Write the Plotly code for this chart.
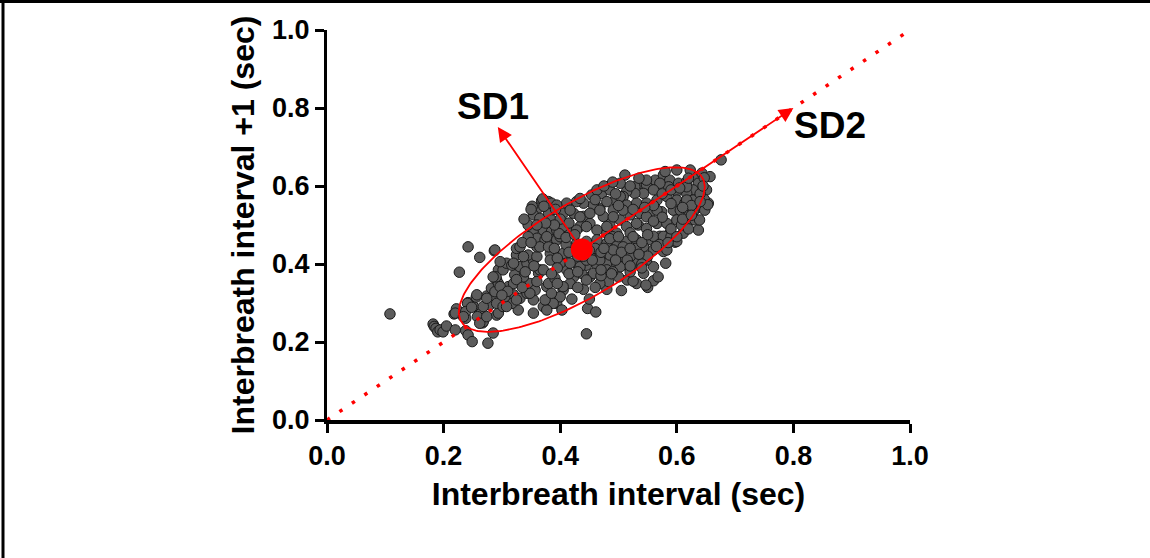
import plotly.graph_objects as go
import numpy as np

# ---- data ----
ibi_n = [
    0.108, 0.242, 0.262, 0.227, 0.287, 0.182, 0.184, 0.187, 0.190, 0.194, 0.199, 0.205, 0.220, 0.218, 0.222, 0.220,
    0.238, 0.238, 0.242, 0.249, 0.276, 0.285, 0.267, 0.262, 0.251, 0.242, 0.256, 0.274, 0.282, 0.291, 0.288, 0.291,
    0.279, 0.294, 0.241, 0.238, 0.234, 0.248, 0.268, 0.258, 0.262, 0.274, 0.294, 0.268, 0.291,
    0.257, 0.274, 0.288, 0.294, 0.290, 0.302, 0.308, 0.297, 0.311, 0.320, 0.328, 0.302, 0.317, 0.331, 0.343, 0.354,
    0.348, 0.337, 0.322, 0.331, 0.343, 0.354, 0.345, 0.360, 0.325, 0.317, 0.363, 0.357, 0.308, 0.377, 0.325, 0.288,
    0.331, 0.285, 0.297, 0.320, 0.365, 0.348, 0.325, 0.305, 0.337, 0.320, 0.354, 0.371, 0.394, 0.377, 0.360, 0.354,
    0.445, 0.447, 0.461, 0.440, 0.480, 0.505, 0.550, 0.560, 0.568, 0.581, 0.577, 0.560, 0.543, 0.531, 0.515, 0.500,
    0.483, 0.468, 0.451, 0.437, 0.423, 0.417, 0.405, 0.400, 0.388, 0.403, 0.377, 0.374, 0.385, 0.380, 0.391, 0.411,
    0.428, 0.445, 0.463, 0.480, 0.497, 0.514, 0.531, 0.548, 0.525, 0.508, 0.485, 0.468, 0.451, 0.405, 0.383, 0.371,
    0.400, 0.405, 0.434, 0.445, 0.417, 0.597, 0.547, 0.525,
    0.368, 0.380, 0.362, 0.354, 0.365, 0.380, 0.385, 0.371, 0.385, 0.360, 0.374, 0.388, 0.365, 0.380, 0.394, 0.370,
    0.352, 0.377, 0.394, 0.383, 0.405,
    0.511, 0.537, 0.528, 0.548, 0.563, 0.577, 0.588, 0.603, 0.617, 0.631, 0.637, 0.628, 0.617, 0.600, 0.586, 0.571,
    0.560, 0.543, 0.528, 0.514, 0.503, 0.508, 0.494, 0.491, 0.514, 0.531, 0.548, 0.566, 0.583, 0.600, 0.614, 0.628,
    0.634, 0.611, 0.594, 0.574, 0.554, 0.537, 0.520, 0.503, 0.485, 0.474, 0.468, 0.457, 0.471, 0.454, 0.440, 0.428,
    0.411, 0.405, 0.423, 0.440, 0.451, 0.434, 0.417, 0.463, 0.480, 0.497, 0.514, 0.534, 0.548, 0.566, 0.583, 0.600,
    0.617, 0.631, 0.637, 0.611, 0.588, 0.571, 0.551, 0.531, 0.514, 0.497, 0.480, 0.463, 0.445, 0.428,
    0.580, 0.600, 0.623, 0.643, 0.657, 0.651, 0.654, 0.648, 0.639, 0.628, 0.608, 0.600, 0.583, 0.385, 0.434, 0.463,
    0.485, 0.503, 0.548, 0.394, 0.417, 0.434, 0.451, 0.468, 0.405, 0.428, 0.445, 0.480, 0.491, 0.508, 0.531, 0.548,
    0.566, 0.617, 0.606, 0.560, 0.543, 0.520, 0.503, 0.480, 0.457, 0.445, 0.468, 0.491, 0.508, 0.560, 0.577, 0.617,
    0.676, 0.647, 0.653, 0.647,
    0.420, 0.440, 0.460, 0.470, 0.430, 0.390, 0.410, 0.400, 0.490, 0.520, 0.530, 0.550, 0.570, 0.590, 0.540, 0.520,
    0.490, 0.470, 0.460, 0.430, 0.420, 0.450,
    0.345, 0.338, 0.350, 0.372, 0.392, 0.400, 0.415, 0.398, 0.410, 0.425, 0.345, 0.335, 0.350, 0.390, 0.375, 0.360,
    0.415, 0.430, 0.450, 0.475, 0.485, 0.500, 0.505, 0.520, 0.535, 0.540, 0.525, 0.495, 0.515, 0.455, 0.440, 0.395,
    0.395, 0.385, 0.355, 0.340, 0.325, 0.310, 0.300, 0.335, 0.360, 0.395, 0.415, 0.430, 0.470, 0.488, 0.520, 0.540,
    0.560, 0.575, 0.590, 0.605, 0.620, 0.640, 0.645, 0.625, 0.610, 0.590, 0.575, 0.560, 0.590, 0.620, 0.600, 0.585,
    0.565, 0.550, 0.610, 0.625, 0.640,
    0.480, 0.495, 0.520, 0.535, 0.500, 0.525, 0.545, 0.460, 0.475, 0.490,
]
ibi_n1 = [
    0.272, 0.444, 0.417, 0.379, 0.434, 0.246, 0.240, 0.235, 0.226, 0.231, 0.226, 0.241, 0.231, 0.272, 0.285, 0.274,
    0.261, 0.229, 0.218, 0.201, 0.197, 0.223, 0.249, 0.272, 0.291, 0.301, 0.315, 0.318, 0.338, 0.359, 0.316, 0.269,
    0.295, 0.385, 0.299, 0.278, 0.265, 0.289, 0.252, 0.265, 0.248, 0.265, 0.274, 0.291, 0.299,
    0.321, 0.312, 0.329, 0.350, 0.367, 0.385, 0.402, 0.406, 0.342, 0.321, 0.282, 0.291, 0.299, 0.312, 0.325, 0.308,
    0.350, 0.367, 0.372, 0.393, 0.402, 0.410, 0.423, 0.419, 0.423, 0.397, 0.376, 0.333, 0.291, 0.291, 0.440, 0.436,
    0.444, 0.367, 0.342, 0.350, 0.385, 0.325, 0.308, 0.316, 0.419, 0.402, 0.274, 0.291, 0.299, 0.342, 0.444, 0.487,
    0.221, 0.286, 0.277, 0.335, 0.335, 0.332, 0.340, 0.357, 0.367, 0.402, 0.432, 0.393, 0.376, 0.350, 0.359, 0.367,
    0.355, 0.350, 0.367, 0.376, 0.367, 0.350, 0.333, 0.316, 0.299, 0.282, 0.282, 0.308, 0.325, 0.350, 0.363, 0.385,
    0.402, 0.397, 0.397, 0.402, 0.402, 0.397, 0.402, 0.410, 0.427, 0.419, 0.423, 0.419, 0.423, 0.423, 0.427, 0.385,
    0.402, 0.342, 0.393, 0.410, 0.402, 0.456, 0.346, 0.356,
    0.562, 0.560, 0.543, 0.526, 0.517, 0.530, 0.513, 0.487, 0.483, 0.466, 0.462, 0.462, 0.444, 0.444, 0.487, 0.567,
    0.548, 0.470, 0.462, 0.410, 0.427,
    0.628, 0.607, 0.598, 0.603, 0.615, 0.628, 0.615, 0.607, 0.611, 0.624, 0.607, 0.590, 0.581, 0.586, 0.598, 0.607,
    0.590, 0.581, 0.581, 0.586, 0.607, 0.573, 0.564, 0.538, 0.551, 0.556, 0.556, 0.564, 0.573, 0.564, 0.556, 0.564,
    0.543, 0.530, 0.538, 0.534, 0.530, 0.530, 0.526, 0.513, 0.504, 0.522, 0.543, 0.551, 0.581, 0.577, 0.556, 0.560,
    0.556, 0.530, 0.530, 0.522, 0.504, 0.496, 0.487, 0.487, 0.479, 0.479, 0.496, 0.500, 0.491, 0.504, 0.504, 0.513,
    0.504, 0.513, 0.487, 0.479, 0.479, 0.471, 0.462, 0.462, 0.458, 0.449, 0.453, 0.462, 0.458, 0.453,
    0.637, 0.641, 0.641, 0.633, 0.624, 0.590, 0.556, 0.538, 0.513, 0.534, 0.500, 0.458, 0.436, 0.556, 0.568, 0.590,
    0.590, 0.573, 0.615, 0.551, 0.538, 0.521, 0.530, 0.538, 0.496, 0.487, 0.496, 0.496, 0.521, 0.538, 0.504, 0.521,
    0.538, 0.598, 0.538, 0.471, 0.444, 0.419, 0.393, 0.385, 0.376, 0.359, 0.410, 0.436, 0.444, 0.436, 0.471, 0.564,
    0.667, 0.566, 0.552, 0.621,
    0.440, 0.440, 0.440, 0.430, 0.420, 0.440, 0.450, 0.470, 0.470, 0.480, 0.440, 0.420, 0.450, 0.470, 0.400, 0.380,
    0.380, 0.370, 0.340, 0.340, 0.310, 0.310,
    0.500, 0.515, 0.540, 0.548, 0.540, 0.515, 0.505, 0.478, 0.468, 0.475, 0.470, 0.455, 0.455, 0.500, 0.505, 0.500,
    0.430, 0.440, 0.435, 0.440, 0.465, 0.470, 0.430, 0.440, 0.425, 0.455, 0.470, 0.410, 0.410, 0.410, 0.420, 0.415,
    0.390, 0.375, 0.395, 0.380, 0.360, 0.330, 0.320, 0.340, 0.355, 0.350, 0.375, 0.380, 0.385, 0.375, 0.395, 0.390,
    0.550, 0.580, 0.590, 0.595, 0.620, 0.580, 0.600, 0.550, 0.545, 0.555, 0.520, 0.510, 0.490, 0.490, 0.470, 0.455,
    0.445, 0.475, 0.515, 0.525, 0.560,
    0.560, 0.580, 0.600, 0.620, 0.550, 0.540, 0.545, 0.565, 0.600, 0.610,
]

center_x = 0.437           # mean interval
center_y = 0.437
sd2_half = 0.280           # semi-axis along the identity line
sd1_half = 0.103           # semi-axis across the identity line
sd1_tip = (0.293, 0.751)
sd2_tip = (0.800, 0.800)
identity_x = [0.0, 1.0]
identity_y = [0.0, 1.0]
tick_vals = [0.0, 0.2, 0.4, 0.6, 0.8, 1.0]
tick_text = ["0.0", "0.2", "0.4", "0.6", "0.8", "1.0"]

# ellipse outline from centre and semi-axes
theta = np.linspace(0, 2 * np.pi, 241)
r2 = np.sqrt(2) / 2
ell_x = center_x + sd2_half * np.cos(theta) * r2 - sd1_half * np.sin(theta) * r2
ell_y = center_y + sd2_half * np.cos(theta) * r2 + sd1_half * np.sin(theta) * r2

RED = "#ff0000"
FONT = "Liberation Sans, Arial, sans-serif"

fig = go.Figure()
fig.add_trace(go.Scatter(
    x=ibi_n, y=ibi_n1, mode="markers",
    marker=dict(size=10.5, color="#5c5c5c", line=dict(color="#1a1a1a", width=1)),
    hoverinfo="skip", showlegend=False))
fig.add_trace(go.Scatter(
    x=ell_x, y=ell_y, mode="lines", line=dict(color=RED, width=1.8),
    hoverinfo="skip", showlegend=False))
fig.add_trace(go.Scatter(
    x=identity_x, y=identity_y, mode="lines",
    line=dict(color=RED, width=3.5, dash="3.5px,11.5px"),
    cliponaxis=False, hoverinfo="skip", showlegend=False))
fig.add_trace(go.Scatter(
    x=[center_x], y=[center_y], mode="markers",
    marker=dict(size=22, color=RED), hoverinfo="skip", showlegend=False))

for tip in (sd1_tip, sd2_tip):
    fig.add_annotation(x=tip[0], y=tip[1], ax=center_x, ay=center_y,
                       xref="x", yref="y", axref="x", ayref="y", text="",
                       showarrow=True, arrowhead=2, arrowsize=1.6, arrowwidth=1.8,
                       arrowcolor=RED, standoff=0, startstandoff=0)

fig.add_annotation(x=0.285, y=0.803, xref="x", yref="y", text="SD1", showarrow=False,
                   font=dict(family=FONT, size=37, color="black", weight="bold"))
fig.add_annotation(x=0.863, y=0.754, xref="x", yref="y", text="SD2", showarrow=False,
                   font=dict(family=FONT, size=37, color="black", weight="bold"))

# outer frame (top and left edges of the picture)
L, R, T, B = 327, 910, 30, 420
def px(v):
    return (v - L) / (R - L)
def py(v):
    return (B - v) / (B - T)
fig.add_shape(type="line", xref="paper", yref="paper", x0=px(0), x1=px(1150), y0=py(1.5), y1=py(1.5),
              line=dict(color="black", width=3))
fig.add_shape(type="line", xref="paper", yref="paper", x0=px(3), x1=px(3), y0=py(0), y1=py(558),
              line=dict(color="black", width=3))

axis_common = dict(range=[0, 1], tickvals=tick_vals, ticktext=tick_text, showgrid=False, zeroline=False,
                   showline=True, linecolor="black", ticks="outside", ticklen=9, tickwidth=3,
                   tickcolor="black",
                   tickfont=dict(family=FONT, size=27, color="black", weight="bold"))
fig.update_xaxes(**axis_common, linewidth=4,
                 title=dict(text="Interbreath interval (sec)", standoff=13,
                            font=dict(family=FONT, size=32, color="black", weight="bold")))
fig.update_yaxes(**axis_common, linewidth=3,
                 title=dict(text="Interbreath interval +1 (sec)", standoff=8,
                            font=dict(family=FONT, size=32, color="black", weight="bold")))

fig.update_layout(width=1150, height=558, margin=dict(l=L, r=1150 - R, t=T, b=558 - B, autoexpand=False),
                  plot_bgcolor="white", paper_bgcolor="white", showlegend=False)
fig.write_html("out.html")
